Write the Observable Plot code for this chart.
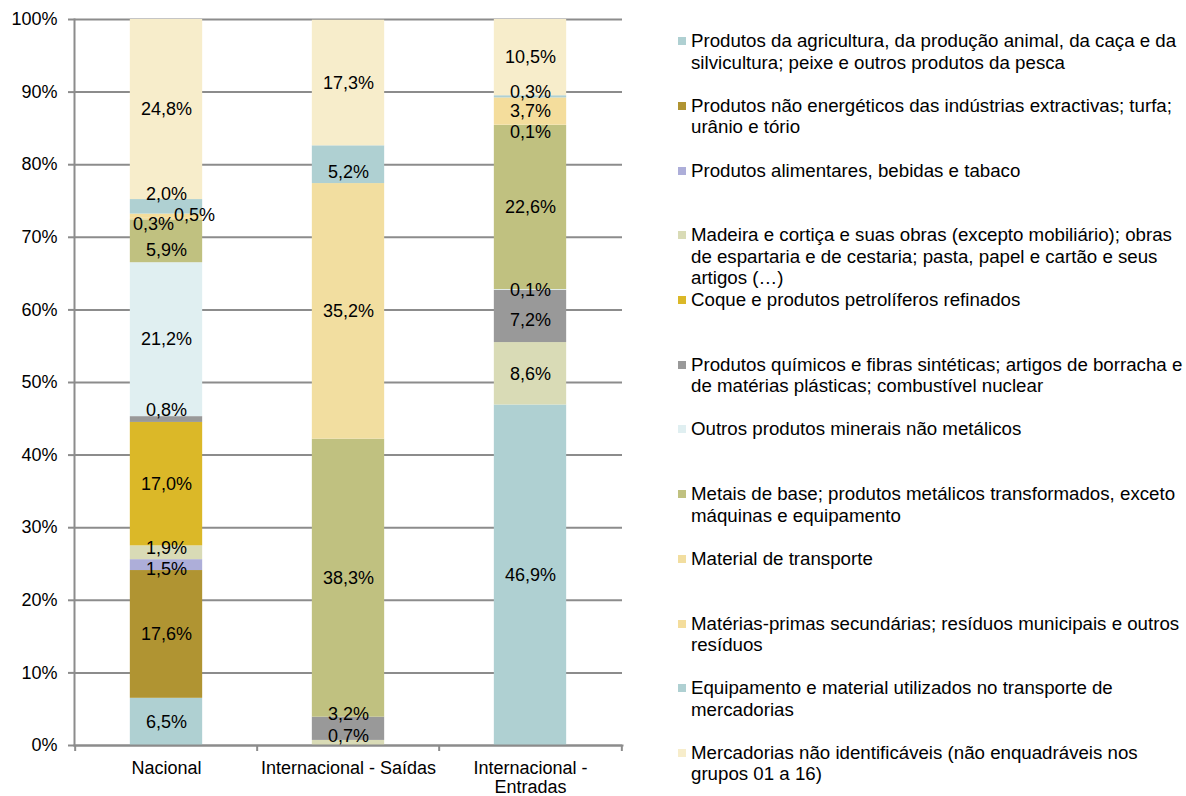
<!DOCTYPE html>
<html>
<head>
<meta charset="utf-8">
<script src="https://cdn.jsdelivr.net/npm/d3@7"></script>
<script src="https://cdn.jsdelivr.net/npm/@observablehq/plot@0.6"></script>
<style>
  html, body { margin: 0; padding: 0; background: #fff; }
  #wrap { position: relative; width: 1186px; height: 796px; overflow: hidden; font-family: "Liberation Sans", Arial, sans-serif; }
  #chart { position: absolute; left: 0; top: 0; }
  .lg { position: absolute; left: 691px; width: 500px; font-size: 18.7px; line-height: 21.5px; color: #000; }
  .lg .sw { position: absolute; left: -13px; top: 7px; width: 8px; height: 8px; }
</style>
</head>
<body>
<div id="wrap"><div id="chart"></div><div id="legend"></div></div>
<script>
// ---- data ----
const categories = [
  "Produtos da agricultura, da produção animal, da caça e da silvicultura; peixe e outros produtos da pesca",
  "Produtos não energéticos das indústrias extractivas; turfa; urânio e tório",
  "Produtos alimentares, bebidas e tabaco",
  "Madeira e cortiça e suas obras (excepto mobiliário); obras de espartaria e de cestaria; pasta, papel e cartão e seus artigos (…)",
  "Coque e produtos petrolíferos refinados",
  "Produtos químicos e fibras sintéticas; artigos de borracha e de matérias plásticas; combustível nuclear",
  "Outros produtos minerais não metálicos",
  "Metais de base; produtos metálicos transformados, exceto máquinas e equipamento",
  "Material de transporte",
  "Matérias-primas secundárias; resíduos municipais e outros resíduos",
  "Equipamento e material utilizados no transporte de mercadorias",
  "Mercadorias não identificáveis (não enquadráveis nos grupos 01 a 16)"
];
const colors = ["#afd0d2", "#b09432", "#adaed9", "#d9dbb6", "#dbb828", "#999999",
                "#e0eff1", "#c0c180", "#f2dea0", "#f4dd9c", "#afd0d2", "#f7edcb"];
const series = ["Nacional", "Internacional - Saídas", "Internacional - Entradas"];
const seriesLabels = ["Nacional", "Internacional - Saídas", "Internacional -\nEntradas"];
const nacional = [6.5, 17.6, 1.5, 1.9, 17.0, 0.8, 21.2, 5.9, 0.3, 0.5, 2.0, 24.8];
const saidas   = [0, 0, 0, 0.7, 0, 3.2, 0, 38.3, 35.2, 0, 5.2, 17.3];
const entradas = [46.9, 0, 0, 8.6, 0, 7.2, 0.1, 22.6, 0.1, 3.7, 0.3, 10.5];
const yTicks = [0, 10, 20, 30, 40, 50, 60, 70, 80, 90, 100];

// ---- layout ----
const W = 640, H = 796, mL = 74, mR = 18, mT = 19, mB = 51;
const bw = (W - mL - mR) / series.length;
const barW = 73;
const inset = (bw - barW) / 2;

// label nudges (pixels) for small segments, as placed in the reference
const nudge = {
  "0|2": [0, 4], "0|3": [0, -5], "0|5": [0, -9], "0|7": [0, 9], "0|8": [-13, 5], "0|9": [28, -1], "0|10": [0, -13],
  "1|3": [0, -7], "1|5": [0, -15], "1|10": [0, 8],
  "2|5": [0, 4], "2|8": [0, 7], "2|10": [0, -5]
};

const values = [nacional, saidas, entradas];
const rows = [];
series.forEach((s, si) => {
  let cum = 0;
  categories.forEach((c, ci) => {
    const v = values[si][ci];
    rows.push({series: s, si, category: c, ci, value: v, mid: cum + v / 2});
    cum += v;
  });
});
const fmt = v => v.toFixed(1).replace(".", ",") + "%";

// group labels by nudge
const labelRows = rows.filter(d => d.value > 0);
const groups = d3.group(labelRows, d => (nudge[d.si + "|" + d.ci] || [0, 0]).join(","));
const labelMarks = [];
for (const [key, arr] of groups) {
  const [dx, dy] = key.split(",").map(Number);
  labelMarks.push(Plot.text(arr, {x: "series", y: "mid", text: d => fmt(d.value), dx, dy,
    fill: "#000", fontSize: 18}));
}

const grid = "#8c8c8c";
const chart = Plot.plot({
  width: W, height: H,
  marginLeft: mL, marginRight: mR, marginTop: mT, marginBottom: mB,
  style: {fontFamily: "'Liberation Sans', Arial, sans-serif", fontSize: "18px", color: "#000", background: "transparent"},
  x: {domain: series, padding: 0, label: null},
  y: {domain: [0, 100], label: null},
  color: {domain: categories, range: colors},
  marks: [
    Plot.ruleY(yTicks, {stroke: grid, strokeWidth: 2}),
    Plot.barY(rows, Plot.stackY({x: "series", y: "value", fill: "category", order: categories,
      insetLeft: inset, insetRight: inset})),
    Plot.frame({anchor: "left", stroke: grid, strokeWidth: 2}),
    Plot.frame({anchor: "bottom", stroke: grid, strokeWidth: 2}),
    Plot.ruleX(series, {x: d => d, y1: 0, y2: 0, dx: -bw / 2, insetBottom: -6, stroke: grid, strokeWidth: 2}),
    Plot.ruleX(series.slice(-1), {x: d => d, y1: 0, y2: 0, dx: bw / 2, insetBottom: -6, stroke: grid, strokeWidth: 2}),
    Plot.axisY(yTicks, {tickSize: 6, tickPadding: 11, tickFormat: d => d + "%", stroke: grid, strokeWidth: 2, fill: "#000", fontSize: 18}),
    Plot.axisX({tickSize: 0, tickPadding: 14, tickFormat: d => seriesLabels[series.indexOf(d)], fill: "#000", fontSize: 18, lineHeight: 1.1}),
    ...labelMarks
  ]
});
document.getElementById("chart").appendChild(chart);

// legend
const legend = document.getElementById("legend");
categories.forEach((c, i) => {
  const item = document.createElement("div");
  item.className = "lg";
  item.style.top = (41 + 64.7 * i - 10.75) + "px";
  const sw = document.createElement("span");
  sw.className = "sw";
  sw.style.background = colors[i];
  item.appendChild(sw);
  item.appendChild(document.createTextNode(c));
  legend.appendChild(item);
});
</script>
</body>
</html>
